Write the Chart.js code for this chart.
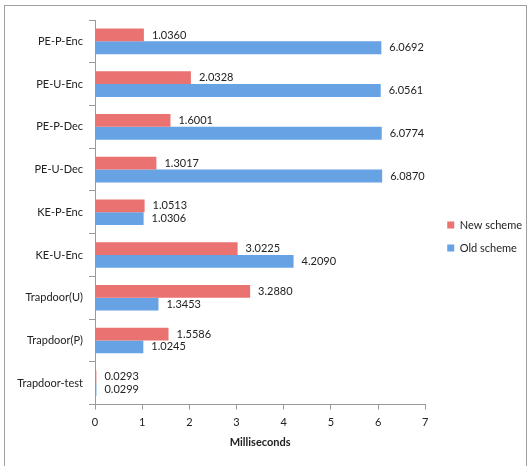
<!DOCTYPE html>
<html>
<head>
<meta charset="utf-8">
<script src="https://cdn.jsdelivr.net/npm/chart.js@4"></script>
<style>
  html, body { margin: 0; padding: 0; background: #fff; }
  #wrap { position: relative; width: 530px; height: 466px; overflow: hidden; }
  #frame { position: absolute; left: 4px; top: 5px; width: 523px; height: 480px; border: 1px solid #a0a0a0; box-sizing: border-box; }
  canvas { position: absolute; left: 0; top: 0; }
</style>
</head>
<body>
<div id="wrap">
  <div id="frame"></div>
  <canvas id="c" width="530" height="466"></canvas>
</div>
<script>
const categories = ['PE-P-Enc', 'PE-U-Enc', 'PE-P-Dec', 'PE-U-Dec', 'KE-P-Enc', 'KE-U-Enc', 'Trapdoor(U)', 'Trapdoor(P)', 'Trapdoor-test'];
const newScheme = [1.0360, 2.0328, 1.6001, 1.3017, 1.0513, 3.0225, 3.2880, 1.5586, 0.0293];
const oldScheme = [6.0692, 6.0561, 6.0774, 6.0870, 1.0306, 4.2090, 1.3453, 1.0245, 0.0299];
const xTicks = [0, 1, 2, 3, 4, 5, 6, 7];

const RED = '#ea7371', BLUE = '#67a2e4', AXIS = '#9a9a9a', TXT = '#222';
const FONT = 'Lato, "Open Sans", sans-serif';

// writes the value to the right of each bar end
const valueLabels = {
  id: 'valueLabels',
  afterLayout(chart) {
    // push the legend a bit away from the plot
    if (chart.legend) { chart.legend.left += 10; chart.legend.right += 10; }
  },
  afterDatasetsDraw(chart) {
    const ctx = chart.ctx;
    ctx.save();
    ctx.font = '11px ' + FONT;
    ctx.fillStyle = TXT;
    ctx.textBaseline = 'middle';
    ctx.textAlign = 'left';
    chart.data.datasets.forEach((ds, i) => {
      chart.getDatasetMeta(i).data.forEach((bar, j) => {
        ctx.fillText(ds.data[j].toFixed(4), bar.x + 8, bar.y);
      });
    });
    ctx.restore();
  }
};

new Chart(document.getElementById('c'), {
  type: 'bar',
  data: {
    labels: categories,
    datasets: [
      { label: 'New scheme', data: newScheme, backgroundColor: RED, borderWidth: 0 },
      { label: 'Old scheme', data: oldScheme, backgroundColor: BLUE, borderWidth: 0 }
    ]
  },
  options: {
    indexAxis: 'y',
    responsive: false,
    animation: false,
    datasets: { bar: { categoryPercentage: 0.6, barPercentage: 1.0 } },
    layout: { padding: { top: 20, bottom: 13, left: 0, right: 8 } },
    plugins: {
      legend: {
        position: 'right',
        labels: {
          boxWidth: 7, boxHeight: 7, padding: 12,
          color: TXT, font: { family: FONT, size: 11 }
        }
      },
      tooltip: { enabled: false }
    },
    scales: {
      x: {
        min: 0, max: 7,
        afterBuildTicks: s => { s.ticks = xTicks.map(v => ({ value: v })); },
        grid: { drawOnChartArea: false, color: AXIS, tickLength: 5 },
        border: { color: AXIS },
        ticks: { color: TXT, font: { family: FONT, size: 11 }, padding: 6 },
        title: { display: true, text: 'Milliseconds', color: TXT, font: { family: FONT, size: 11, weight: 'bold' }, padding: { top: 1 } }
      },
      y: {
        afterFit: s => { s.width = 95; },
        grid: { drawOnChartArea: false, color: AXIS, tickLength: 6 },
        border: { color: AXIS },
        ticks: { color: TXT, font: { family: FONT, size: 11 }, padding: 6 }
      }
    }
  },
  plugins: [valueLabels]
});
</script>
</body>
</html>
